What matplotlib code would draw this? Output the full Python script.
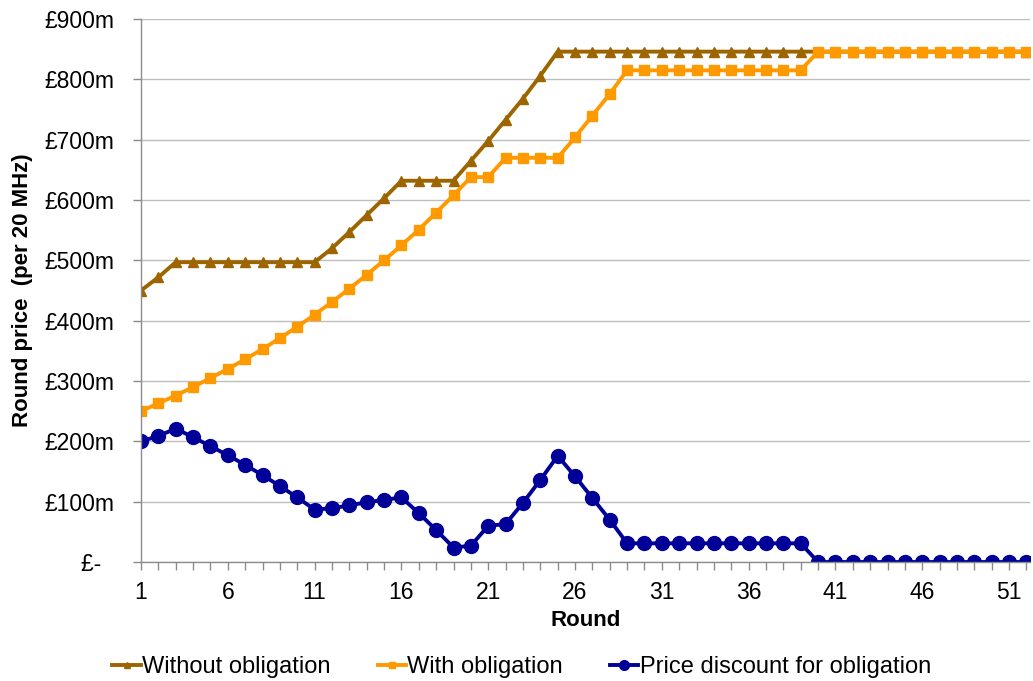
import numpy as np
import matplotlib
matplotlib.use('Agg')
import matplotlib.pyplot as plt
from matplotlib.ticker import FuncFormatter, MultipleLocator

plt.rcParams['font.family'] = ['Liberation Sans', 'DejaVu Sans']

# auction rounds and round prices (GBP m per 20 MHz)
rounds = list(range(1, 53))
without_obligation = [450, 472, 497, 497, 497, 497, 497, 497, 497, 497,
                      497, 520, 547, 575, 603, 632, 632, 632, 632, 665,
                      698, 733, 768, 806, 846, 846, 846, 846, 846, 846,
                      846, 846, 846, 846, 846, 846, 846, 846, 846, 846,
                      846, 846, 846, 846, 846, 846, 846, 846, 846, 846,
                      846, 846]
with_obligation = [250, 263, 276, 290, 305, 320, 336, 353, 371, 390,
                   410, 431, 453, 476, 500, 525, 551, 579, 608, 638,
                   638, 670, 670, 670, 670, 704, 740, 776, 815, 815,
                   815, 815, 815, 815, 815, 815, 815, 815, 815, 846,
                   846, 846, 846, 846, 846, 846, 846, 846, 846, 846,
                   846, 846]
price_discount = [200, 209, 221, 207, 192, 177, 161, 144, 126, 107,
                  87, 89, 94, 99, 103, 107, 81, 53, 24, 27,
                  60, 63, 98, 136, 176, 142, 106, 70, 31, 31,
                  31, 31, 31, 31, 31, 31, 31, 31, 31, 0,
                  0, 0, 0, 0, 0, 0, 0, 0, 0, 0,
                  0, 0]

fig = plt.figure(figsize=(10.33, 6.81), dpi=100)
ax = fig.add_axes([0.1365, 0.1747, 0.8605, 0.7973])

ax.plot(rounds, without_obligation, color='#9C6500', lw=2.8, marker='^', ms=7,
        label='Without obligation')
ax.plot(rounds, with_obligation, color='#FF9900', lw=2.8, marker='s', ms=6.5,
        label='With obligation')
ax.plot(rounds, price_discount, color='#000099', lw=2.8, marker='o', ms=10,
        label='Price discount for obligation')

ax.set_xlim(1, 52.2)
ax.set_ylim(0, 900)
ax.yaxis.set_major_locator(MultipleLocator(100))
ax.yaxis.set_major_formatter(FuncFormatter(lambda v, p: '£-  ' if v == 0 else '£%dm' % v))
ax.set_xticks(list(range(1, 53, 5)))
ax.set_xticks(rounds, minor=True)

ax.grid(axis='y', color='#BEBEBE', lw=1)
ax.set_axisbelow(True)
for s in ['top', 'right']:
    ax.spines[s].set_visible(False)
for s in ['left', 'bottom']:
    ax.spines[s].set_color('#8C8C8C')
    ax.spines[s].set_linewidth(1)

ax.tick_params(axis='both', which='both', direction='out', color='#8C8C8C',
               labelsize=16.5, length=5.5, width=1)
ax.tick_params(axis='y', pad=14)
ax.tick_params(axis='x', pad=8)

ax.set_xlabel('Round', fontsize=16, fontweight='bold', va='top')
ax.xaxis.set_label_coords(0.5, -0.088)
ax.set_ylabel('Round price  (per 20 MHz)', fontsize=16, fontweight='bold')
ax.yaxis.set_label_coords(-0.121, 0.5)

fig.legend(loc='center', bbox_to_anchor=(0.505, 0.02), ncol=3, frameon=False,
           fontsize=17, handlelength=1.2, handletextpad=0.05, columnspacing=2.0,
           markerscale=0.7)

fig.savefig('out.png', dpi=100)
